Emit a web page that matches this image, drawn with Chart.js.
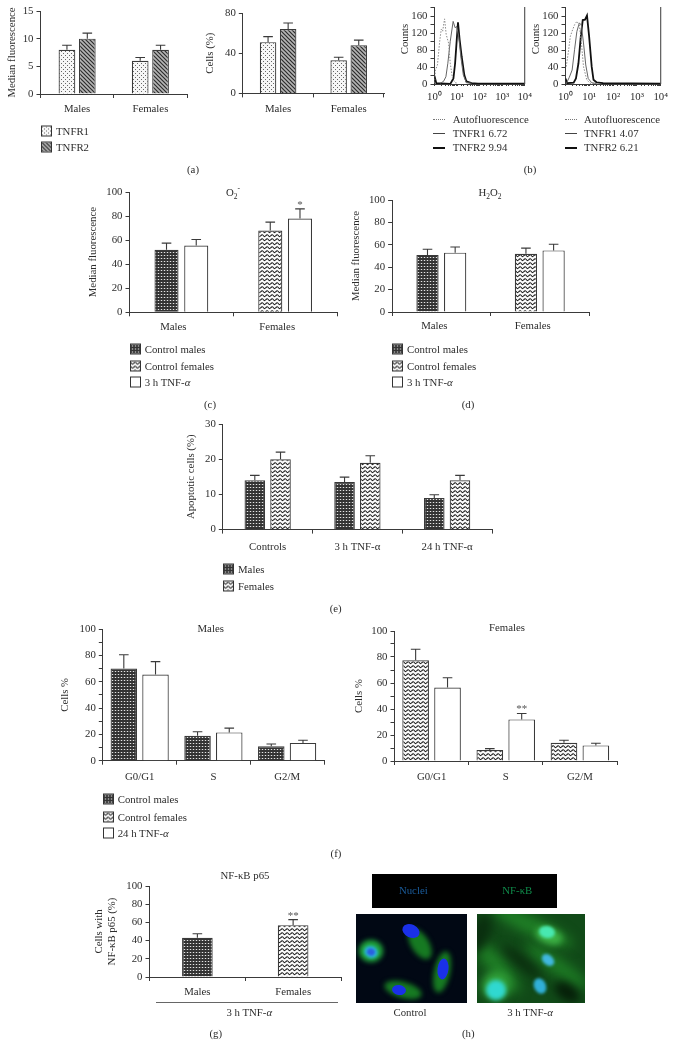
<!DOCTYPE html>
<html>
<head>
<meta charset="utf-8">
<title>TNF receptors, ROS, apoptosis, cell cycle and NF-kB</title>
<script src="https://cdn.jsdelivr.net/npm/chart.js@4"></script>
<style>
  html, body { margin: 0; padding: 0; background: #fff; }
  #page { position: relative; width: 675px; height: 1056px; overflow: hidden; font-family: "Liberation Serif", serif; color: #2c2c2c; filter: blur(0.3px); }
  canvas { position: absolute; }
  .txt { position: absolute; white-space: nowrap; font-size: 10.8px; line-height: 12px; transform: translate(-50%, -50%); }
  .txt.left { transform: translate(0, -50%); }
  .txt.rot { transform: translate(-50%, -50%) rotate(-90deg); }
  .swatch { position: absolute; width: 9px; height: 9px; border: 1px solid #333; transform: translateY(-50%); }
  .stroke { position: absolute; }
  sub, sup { font-size: 7.5px; line-height: 0; }
</style>
</head>
<body>
<div id="page"></div>
<script>
// panel (a)
const sexLabels = ['Males', 'Females'];
const a1Tnfr1 = [8, 6];
const a1Tnfr1Err = [0.8, 0.6];
const a1Tnfr2 = [10, 8];
const a1Tnfr2Err = [1, 0.8];
const a2Tnfr1 = [51, 33];
const a2Tnfr1Err = [5.5, 3];
const a2Tnfr2 = [64, 48];
const a2Tnfr2Err = [6, 5];

// panel (b), fluorescence on x, counts on y
const b1AutoX = [1, 1.1, 1.35, 1.7, 2, 2.3, 2.8, 3.3, 4.2, 5, 6.3, 8.2, 11];
const b1AutoY = [2, 33, 45, 101, 130, 125, 154, 117, 97, 49, 13, 3, 2];
const b1R1X = [1.8, 2.5, 3.2, 3.9, 5, 6.7, 8.2, 9.7, 12, 15, 19, 26, 44];
const b1R1Y = [2, 6, 17, 49, 101, 148, 133, 136, 109, 61, 21, 3, 2];
const b1R2X = [1, 1.2, 5, 6.9, 8.2, 9.7, 11, 13, 16, 21, 26, 44, 85, 10000];
const b1R2Y = [19, 2, 0, 13, 49, 105, 146, 105, 65, 21, 6, 2, 1, 1];
const b2AutoX = [1.07, 1.3, 1.6, 1.9, 2.4, 3, 3.8, 4.6, 5.7, 7.8, 10.7, 17];
const b2AutoY = [41, 73, 113, 125, 140, 148, 140, 101, 41, 10, 2, 1];
const b2R1X = [1.1, 1.45, 1.9, 2.4, 3, 3.8, 4.6, 5.7, 7.1, 9, 12.6, 20];
const b2R1Y = [2, 16, 33, 81, 124, 144, 140, 97, 45, 13, 3, 1];
const b2R2X = [1, 1.17, 2.2, 2.75, 3.5, 4.4, 5.3, 6.6, 8, 9.8, 12.6, 15, 20, 38, 10000];
const b2R2Y = [13, 2, 3, 13, 49, 113, 151, 152, 162, 113, 41, 10, 4, 2, 1];

// panels (c) and (d)
const cControl = [52, 68];
const cControlErr = [5.5, 7];
const cTnf = [55.5, 78];
const cTnfErr = [5, 8];
const cStars = ['', '*'];
const dControl = [51, 52];
const dControlErr = [5, 5];
const dTnf = [53, 55];
const dTnfErr = [5, 5.5];

// panel (e)
const eLabels = ['Controls', '3 h TNF-α', '24 h TNF-α'];
const eMales = [14, 13.5, 9];
const eMalesErr = [1.4, 1.4, 0.9];
const eFemales = [20, 19, 14];
const eFemalesErr = [2, 2, 1.4];

// panel (f)
const phaseLabels = ['G0/G1', 'S', 'G2/M'];
const f1Control = [70, 19, 11];
const f1ControlErr = [10.5, 3, 1.7];
const f1Tnf = [65.5, 21.5, 13.5];
const f1TnfErr = [9.7, 3.2, 2];
const f2Control = [77.5, 8.5, 14];
const f2ControlErr = [8.5, 1, 2];
const f2Tnf = [56.5, 32, 12];
const f2TnfErr = [7.5, 4.5, 1.7];
const f2Stars = ['', '**', ''];

// panel (g)
const gValues = [43, 57];
const gErr = [4.5, 6];
const gStars = ['', '**'];

const ink = '#3a3a3a';
Chart.defaults.font.family = '"Liberation Serif", serif';
Chart.defaults.font.size = 10.8;
Chart.defaults.color = '#2c2c2c';
Chart.defaults.animation = false;

const page = document.getElementById('page');

function makeTile(w, h, draw) {
  const c = document.createElement('canvas');
  c.width = w;
  c.height = h;
  draw(c.getContext('2d'));
  return c;
}

const tileDots = makeTile(4, 4, g => {
  g.fillStyle = '#f6f6f6';
  g.fillRect(0, 0, 4, 4);
  g.fillStyle = '#666';
  g.fillRect(0, 0, 1, 1);
  g.fillRect(2, 2, 1, 1);
});
const tileHatch = makeTile(4, 4, g => {
  g.fillStyle = '#b5b5b5';
  g.fillRect(0, 0, 4, 4);
  g.strokeStyle = '#2c2c2c';
  g.lineWidth = 1.2;
  g.beginPath();
  g.moveTo(-1, -1); g.lineTo(5, 5);
  g.moveTo(-1, 3); g.lineTo(1, 5);
  g.moveTo(3, -1); g.lineTo(5, 1);
  g.stroke();
});
const tileDark = makeTile(3, 3, g => {
  g.fillStyle = '#333';
  g.fillRect(0, 0, 3, 3);
  g.fillStyle = '#555';
  g.fillRect(0, 1, 3, 1);
  g.fillStyle = '#e4e4e4';
  g.fillRect(1, 1, 1, 1);
});
const tileWave = makeTile(5, 4, g => {
  g.fillStyle = '#fafafa';
  g.fillRect(0, 0, 5, 4);
  g.strokeStyle = '#222';
  g.lineWidth = 1.1;
  g.beginPath();
  g.moveTo(0, 1);
  g.quadraticCurveTo(1.25, 3.6, 2.5, 2);
  g.quadraticCurveTo(3.75, 0.4, 5, 1);
  g.stroke();
});

const ctxForPatterns = document.createElement('canvas').getContext('2d');
const fillDots = ctxForPatterns.createPattern(tileDots, 'repeat');
const fillHatch = ctxForPatterns.createPattern(tileHatch, 'repeat');
const fillDark = ctxForPatterns.createPattern(tileDark, 'repeat');
const fillWave = ctxForPatterns.createPattern(tileWave, 'repeat');

// error bars go up only, stars sit on top of them
const errorBars = {
  id: 'errorBars',
  afterDatasetsDraw(chart) {
    const g = chart.ctx;
    const y = chart.scales.y;
    chart.data.datasets.forEach((ds, i) => {
      if (!ds.errs) return;
      chart.getDatasetMeta(i).data.forEach((bar, j) => {
        const top = y.getPixelForValue(ds.data[j] + ds.errs[j]);
        g.save();
        g.strokeStyle = ink;
        g.lineWidth = 1.1;
        g.beginPath();
        g.moveTo(bar.x, bar.y);
        g.lineTo(bar.x, top);
        g.moveTo(bar.x - 4.8, top);
        g.lineTo(bar.x + 4.8, top);
        g.stroke();
        if (ds.stars && ds.stars[j]) {
          g.fillStyle = '#555';
          g.font = '11px "Liberation Serif", serif';
          g.textAlign = 'center';
          g.textBaseline = 'middle';
          g.fillText(ds.stars[j], bar.x, top - 4);
        }
        g.restore();
      });
    });
  }
};

const rightBorder = {
  id: 'rightBorder',
  afterDraw(chart) {
    const g = chart.ctx;
    const a = chart.chartArea;
    g.save();
    g.strokeStyle = ink;
    g.lineWidth = 1;
    g.beginPath();
    g.moveTo(a.right, a.top);
    g.lineTo(a.right, a.bottom);
    g.stroke();
    g.restore();
  }
};

function addCanvas(box) {
  const c = document.createElement('canvas');
  const left = box.titleX ? box.titleX - 5.5 : box.left - 30;
  const top = box.top - 10;
  const width = box.right + 10 - left;
  const height = box.bottom + 26 - top;
  c.width = Math.round(width);
  c.height = Math.round(height);
  c.style.left = left + 'px';
  c.style.top = top + 'px';
  page.appendChild(c);
  return { canvas: c, yWidth: box.left - left, xHeight: c.height - (box.bottom - top) };
}

function axisGrid() {
  return { display: true, drawOnChartArea: false, drawTicks: true, tickLength: 4, tickColor: ink, tickWidth: 1 };
}

function yAxis(box, fit) {
  return {
    position: 'left',
    min: 0,
    max: box.max,
    border: { color: ink, width: 1 },
    grid: axisGrid(),
    title: box.yTitle ? {
      display: true,
      text: box.yTitle,
      padding: 0,
      font: { size: 10.8, lineHeight: box.titleLine || 1 }
    } : { display: false },
    ticks: {
      stepSize: box.step,
      includeBounds: false,
      autoSkip: false,
      padding: 3,
      callback: v => (box.labelEvery && v % box.labelEvery !== 0 ? '' : v)
    },
    afterFit(s) { s.width = fit.yWidth; }
  };
}

function barChart(box, labels, datasets) {
  const fit = addCanvas(box);
  new Chart(fit.canvas, {
    type: 'bar',
    data: { labels, datasets },
    plugins: [errorBars],
    options: {
      responsive: false,
      layout: { padding: { top: 10, right: 10 } },
      plugins: { legend: { display: false }, tooltip: { enabled: false } },
      datasets: { bar: { categoryPercentage: box.catPct, barPercentage: box.barPct, borderWidth: 1.2, borderColor: ink } },
      scales: {
        x: {
          border: { color: ink, width: 1 },
          grid: axisGrid(),
          ticks: { padding: box.gap, labelOffset: box.labelShift || 0, maxRotation: 0, autoSkip: false },
          afterFit(s) { s.height = fit.xHeight; }
        },
        y: yAxis(box, fit)
      }
    }
  });
}

function zip(xs, ys) {
  return xs.map((x, i) => ({ x, y: ys[i] }));
}

const powers = { 1: '10⁰', 10: '10¹', 100: '10²', 1000: '10³', 10000: '10⁴' };

function histogram(box, auto, r1, r2) {
  const fit = addCanvas(box);
  new Chart(fit.canvas, {
    type: 'line',
    data: {
      datasets: [
        { data: auto, borderColor: '#8a8a8a', borderWidth: 1, borderDash: [1.5, 1.5] },
        { data: r1, borderColor: '#666', borderWidth: 1 },
        { data: r2, borderColor: '#111', borderWidth: 1.8 }
      ]
    },
    plugins: [rightBorder],
    options: {
      responsive: false,
      layout: { padding: { top: 10, right: 10 } },
      elements: { point: { radius: 0 }, line: { tension: 0 } },
      plugins: { legend: { display: false }, tooltip: { enabled: false } },
      scales: {
        x: {
          type: 'logarithmic',
          min: 1,
          max: 10000,
          border: { color: ink, width: 1 },
          grid: { display: true, drawOnChartArea: false, drawTicks: true, tickLength: 2, tickColor: ink },
          ticks: { padding: 5, maxRotation: 0, autoSkip: false, callback: v => powers[v] || '' },
          afterFit(s) { s.height = fit.xHeight; }
        },
        y: yAxis(box, fit)
      }
    }
  });
}

function text(html, x, y, cls, color) {
  const d = document.createElement('div');
  d.className = 'txt' + (cls ? ' ' + cls : '');
  d.innerHTML = html;
  d.style.left = x + 'px';
  d.style.top = y + 'px';
  if (color) d.style.color = color;
  page.appendChild(d);
}

function swatch(tile, x, y) {
  const d = document.createElement('div');
  d.className = 'swatch';
  d.style.left = x + 'px';
  d.style.top = y + 'px';
  d.style.background = tile ? 'url(' + tile.toDataURL() + ')' : '#fff';
  page.appendChild(d);
}

function legend(x, textX, rows) {
  rows.forEach(r => {
    swatch(r[0], x, r[2]);
    text(r[1], textX, r[2], 'left');
  });
}

function lineKey(x, y, width, color, dash) {
  const d = document.createElement('div');
  d.className = 'stroke';
  d.style.left = x + 'px';
  d.style.top = y + 'px';
  d.style.width = '12px';
  d.style.borderTop = width + 'px ' + dash + ' ' + color;
  page.appendChild(d);
}

const alpha = '<i>α</i>';

// (a)
barChart({ left: 40.7, right: 186.7, top: 10.5, bottom: 93.5, max: 15, step: 5, titleX: 12.7, yTitle: 'Median fluorescence', catPct: 0.556, barPct: 0.82, gap: 5 },
  sexLabels, [
    { data: a1Tnfr1, errs: a1Tnfr1Err, backgroundColor: fillDots },
    { data: a1Tnfr2, errs: a1Tnfr2Err, backgroundColor: fillHatch }
  ]);
barChart({ left: 242.3, right: 383, top: 13.3, bottom: 93.7, max: 80, step: 40, titleX: 210, yTitle: 'Cells (%)', catPct: 0.569, barPct: 0.82, gap: 5 },
  sexLabels, [
    { data: a2Tnfr1, errs: a2Tnfr1Err, backgroundColor: fillDots },
    { data: a2Tnfr2, errs: a2Tnfr2Err, backgroundColor: fillHatch }
  ]);
legend(40.7, 56, [[tileDots, 'TNFR1', 130.7], [tileHatch, 'TNFR2', 146.7]]);
text('(a)', 193, 169);

// (b)
histogram({ left: 434, right: 526, top: 7, bottom: 84, max: 182, step: 20, labelEvery: 40, titleX: 404 },
  zip(b1AutoX, b1AutoY), zip(b1R1X, b1R1Y), zip(b1R2X, b1R2Y));
histogram({ left: 565, right: 662, top: 7, bottom: 84, max: 182, step: 20, labelEvery: 40, titleX: 535 },
  zip(b2AutoX, b2AutoY), zip(b2R1X, b2R1Y), zip(b2R2X, b2R2Y));
text('Counts', 404, 39, 'rot');
text('Counts', 535, 39, 'rot');
lineKey(433, 119, 1, '#777', 'dotted');
lineKey(433, 133, 1, '#444', 'solid');
lineKey(433, 147, 2, '#111', 'solid');
text('Autofluorescence', 452.7, 119, 'left');
text('TNFR1 6.72', 452.7, 133, 'left');
text('TNFR2 9.94', 452.7, 147, 'left');
lineKey(565, 119, 1, '#777', 'dotted');
lineKey(565, 133, 1, '#444', 'solid');
lineKey(565, 147, 2, '#111', 'solid');
text('Autofluorescence', 584, 119, 'left');
text('TNFR1 4.07', 584, 133, 'left');
text('TNFR2 6.21', 584, 147, 'left');
text('(b)', 530, 169);

// (c)
barChart({ left: 129, right: 336.4, top: 191.7, bottom: 312, max: 100, step: 20, titleX: 93, yTitle: 'Median fluorescence', catPct: 0.573, barPct: 0.81, gap: 4, labelShift: -8 },
  sexLabels, [
    { data: cControl, errs: cControlErr, backgroundColor: [fillDark, fillWave] },
    { data: cTnf, errs: cTnfErr, stars: cStars, backgroundColor: '#fff' }
  ]);
text('O<sub>2</sub><sup>-</sup>', 233, 191.7);
legend(130.3, 144.7, [[tileDark, 'Control males', 349], [tileWave, 'Control females', 365.7], [null, '3 h TNF-' + alpha, 382]]);
text('(c)', 210, 404);

// (d)
barChart({ left: 392.3, right: 589.3, top: 200, bottom: 312, max: 100, step: 20, titleX: 356.7, yTitle: 'Median fluorescence', catPct: 0.562, barPct: 0.805, gap: 4, labelShift: -7 },
  sexLabels, [
    { data: dControl, errs: dControlErr, backgroundColor: [fillDark, fillWave] },
    { data: dTnf, errs: dTnfErr, backgroundColor: '#fff' }
  ]);
text('H<sub>2</sub>O<sub>2</sub>', 490, 191.7);
legend(392.3, 407, [[tileDark, 'Control males', 349], [tileWave, 'Control females', 365.7], [null, '3 h TNF-' + alpha, 382]]);
text('(d)', 468, 404);

// (e)
barChart({ left: 222.3, right: 491.4, top: 423.7, bottom: 529.3, max: 30, step: 10, titleX: 191, yTitle: 'Apoptotic cells (%)', catPct: 0.573, barPct: 0.8, gap: 7 },
  eLabels, [
    { data: eMales, errs: eMalesErr, backgroundColor: fillDark },
    { data: eFemales, errs: eFemalesErr, backgroundColor: fillWave }
  ]);
legend(223.3, 238, [[tileDark, 'Males', 569.3], [tileWave, 'Females', 586]]);
text('(e)', 335.7, 608);

// (f)
barChart({ left: 102.3, right: 323.3, top: 629, bottom: 760.7, max: 100, step: 10, labelEvery: 20, titleX: 65, yTitle: 'Cells %', catPct: 0.86, barPct: 0.836, gap: 6 },
  phaseLabels, [
    { data: f1Control, errs: f1ControlErr, backgroundColor: fillDark },
    { data: f1Tnf, errs: f1TnfErr, backgroundColor: '#fff' }
  ]);
text('Males', 210.7, 627.7);
legend(103, 117.7, [[tileDark, 'Control males', 799], [tileWave, 'Control females', 816.7], [null, '24 h TNF-' + alpha, 833]]);
barChart({ left: 394, right: 616, top: 630.7, bottom: 760.7, max: 100, step: 10, labelEvery: 20, titleX: 359, yTitle: 'Cells %', catPct: 0.86, barPct: 0.836, gap: 6 },
  phaseLabels, [
    { data: f2Control, errs: f2ControlErr, backgroundColor: fillWave },
    { data: f2Tnf, errs: f2TnfErr, stars: f2Stars, backgroundColor: '#fff' }
  ]);
text('Females', 507, 627);
text('(f)', 336, 853);

// (g)
barChart({ left: 149, right: 340, top: 885.7, bottom: 976.7, max: 100, step: 20, titleX: 98, yTitle: ['Cells with', 'NF-κB p65 (%)'], titleLine: 1.17, catPct: 0.8, barPct: 0.4, gap: 5 },
  sexLabels, [
    { data: gValues, errs: gErr, stars: gStars, backgroundColor: [fillDark, fillWave] }
  ]);
text('NF-κB p65', 245, 875);
const rule = document.createElement('div');
rule.style.cssText = 'position:absolute;left:155.7px;top:1002px;width:182.3px;border-top:1px solid #666';
page.appendChild(rule);
text('3 h TNF-' + alpha, 249.3, 1012);
text('(g)', 215.7, 1033);

// (h) micrographs
const banner = document.createElement('div');
banner.style.cssText = 'position:absolute;left:372px;top:874px;width:185px;height:34px;background:#000';
page.appendChild(banner);
text('Nuclei', 413.3, 890, '', '#1a5c9c');
text('NF-κB', 517.3, 890, '', '#0f8a4a');

// [x, y, rx, ry, degrees, colour, blur]
const photoControl = [
  [64, 30, 17, 9, 58, '#167a22', 2.5],
  [15, 37, 12, 11, 0, '#1fa63c', 2.5],
  [86, 58, 8, 21, 12, '#167a22', 2.5],
  [47, 76, 19, 8, 15, '#167a22', 2.5],
  [15, 38, 7, 6, 20, '#2ab0d8', 1.5],
  [55, 17, 9, 6.5, 25, '#1a30e8', 0.6],
  [15, 38, 4, 3.5, 20, '#2a60e0', 1.2],
  [87, 55, 5.5, 10.5, 6, '#1a30e8', 0.6],
  [43, 76, 7, 5, 8, '#1a30e8', 0.6]
];
const photoTnf = [
  [55, 12, 45, 9, 25, '#1f7f26', 6],
  [20, 52, 34, 9, 50, '#1f7f26', 6],
  [80, 52, 38, 8, 35, '#1d7a24', 6],
  [45, 48, 25, 5, 40, '#0a2c0e', 5],
  [90, 78, 14, 8, 35, '#061f09', 4],
  [3, 20, 10, 20, 20, '#0a2f0f', 5],
  [72, 22, 14, 8, 20, '#3cb044', 3],
  [19, 72, 14, 14, 0, '#33a63c', 4],
  [70, 18, 8, 6, 10, '#48e8b0', 1.5],
  [71, 46, 7, 5, 40, '#40b8e0', 1.5],
  [63, 72, 6, 8, -25, '#30b0d8', 1.5],
  [19, 76, 10, 10, 0, '#30d8d0', 2]
];

function photo(x, y, w, h, bg, blobs) {
  const c = document.createElement('canvas');
  c.width = w;
  c.height = h;
  c.style.left = x + 'px';
  c.style.top = y + 'px';
  const g = c.getContext('2d');
  g.fillStyle = bg;
  g.fillRect(0, 0, w, h);
  blobs.forEach(b => {
    g.filter = 'blur(' + b[6] + 'px)';
    g.fillStyle = b[5];
    g.beginPath();
    g.ellipse(b[0], b[1], b[2], b[3], b[4] * Math.PI / 180, 0, Math.PI * 2);
    g.fill();
  });
  page.appendChild(c);
}
photo(356, 914, 111, 89, '#010814', photoControl);
photo(477, 914, 108, 89, '#114a18', photoTnf);
text('Control', 410, 1011.7);
text('3 h TNF-' + alpha, 530, 1011.7);
text('(h)', 468.3, 1033);
</script>
</body>
</html>
